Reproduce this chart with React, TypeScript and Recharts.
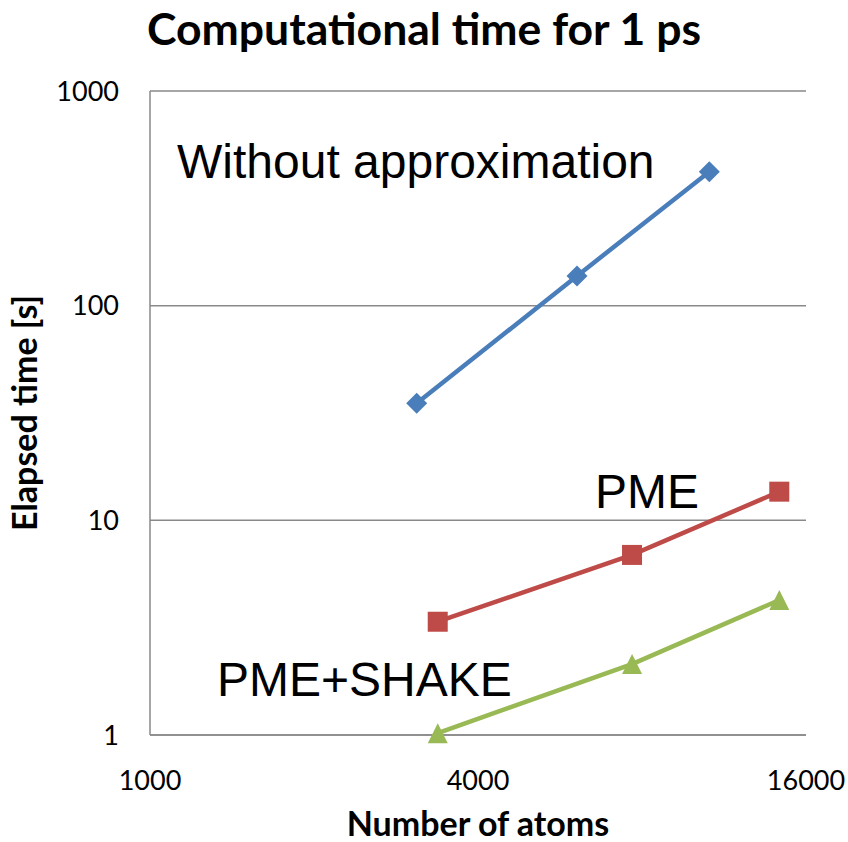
import React from "react";
import { LineChart, Line, XAxis, YAxis, CartesianGrid, Customized } from "recharts";

const withoutAtoms = [3087, 6078, 10632];
const withoutTimes = [35.1, 137.5, 421];
const pmeAtoms = [3374, 7670, 14292];
const pmeTimes = [3.37, 6.9, 13.6];
const shakeAtoms = [3374, 7670, 14292];
const shakeTimes = [1.02, 2.14, 4.25];

const xTicks = [1000, 4000, 16000];
const yTicks = [1, 10, 100, 1000];

const toRows = (xs: number[], ys: number[]) => xs.map((x, i) => ({ x, y: ys[i] }));
const withoutData = toRows(withoutAtoms, withoutTimes);
const pmeData = toRows(pmeAtoms, pmeTimes);
const shakeData = toRows(shakeAtoms, shakeTimes);

const BLUE = "#4A7EBB";
const RED = "#BE4B48";
const GREEN = "#98B954";
const GRID = "#898989";
const CAL = "Lato, 'Noto Sans', sans-serif";
const ARIAL = "'Liberation Sans', Arial, sans-serif";

const Diamond = (p: any) => {
  const { cx, cy } = p;
  if (cx == null || cy == null) return null;
  const h = 10.5;
  return <path key={`d${p.index}`} d={`M${cx},${cy - h}L${cx + h},${cy}L${cx},${cy + h}L${cx - h},${cy}Z`} fill={BLUE} />;
};
const Square = (p: any) => {
  const { cx, cy } = p;
  if (cx == null || cy == null) return null;
  const h = 10;
  return <rect key={`s${p.index}`} x={cx - h} y={cy - h} width={2 * h} height={2 * h} fill={RED} />;
};
const Triangle = (p: any) => {
  const { cx, cy } = p;
  if (cx == null || cy == null) return null;
  const h = 10;
  return <path key={`t${p.index}`} d={`M${cx},${cy - h}L${cx + h},${cy + h}L${cx - h},${cy + h}Z`} fill={GREEN} />;
};

const Texts = () => (
  <g>
    <text x={424} y={45} textAnchor="middle" fontFamily={CAL} fontWeight="bold" fontSize={44.5} fill="#000">
      Computational time for 1 ps
    </text>
    <text x={478} y={836} textAnchor="middle" fontFamily={CAL} fontWeight="bold" fontSize={34} fill="#000">
      Number of atoms
    </text>
    <text x={37} y={413} transform="rotate(-90 37 413)" textAnchor="middle" fontFamily={CAL} fontWeight="bold" fontSize={34} fill="#000">
      Elapsed time [s]
    </text>
    <text x={177} y={178} fontFamily={ARIAL} fontSize={48} fill="#000">Without approximation</text>
    <text x={595} y={508} fontFamily={ARIAL} fontSize={48} fill="#000">PME</text>
    <text x={217} y={696} fontFamily={ARIAL} fontSize={48} fill="#000">PME+SHAKE</text>
  </g>
);

export default function App() {
  return (
    <div style={{ position: "absolute", left: 0, top: 0, width: 848, height: 842, background: "#fff" }}>
      <LineChart width={848} height={842} margin={{ top: 91, right: 42, bottom: 67, left: 90 }} style={{ overflow: "visible" }}>
        <CartesianGrid vertical={false} stroke={GRID} strokeWidth={1.5} />
        <XAxis
          type="number"
          dataKey="x"
          scale="log"
          domain={[1000, 16000]}
          ticks={xTicks}
          height={40}
          tickLine={false}
          tickSize={0}
          tickMargin={36}
          axisLine={{ stroke: GRID, strokeWidth: 1.5 }}
          tick={{ fill: "#000", fontSize: 27, fontFamily: CAL }}
        />
        <YAxis
          type="number"
          dataKey="y"
          scale="log"
          domain={[1, 1000]}
          ticks={yTicks}
          width={60}
          tickLine={false}
          tickSize={0}
          tickMargin={31}
          axisLine={{ stroke: GRID, strokeWidth: 1.5 }}
          tick={{ fill: "#000", fontSize: 27, fontFamily: CAL }}
        />
        <Line data={withoutData} dataKey="y" stroke={BLUE} strokeWidth={4.5} dot={Diamond} isAnimationActive={false} />
        <Line data={pmeData} dataKey="y" stroke={RED} strokeWidth={4.5} dot={Square} isAnimationActive={false} />
        <Line data={shakeData} dataKey="y" stroke={GREEN} strokeWidth={4.5} dot={Triangle} isAnimationActive={false} />
        <Customized component={Texts} />
      </LineChart>
    </div>
  );
}
